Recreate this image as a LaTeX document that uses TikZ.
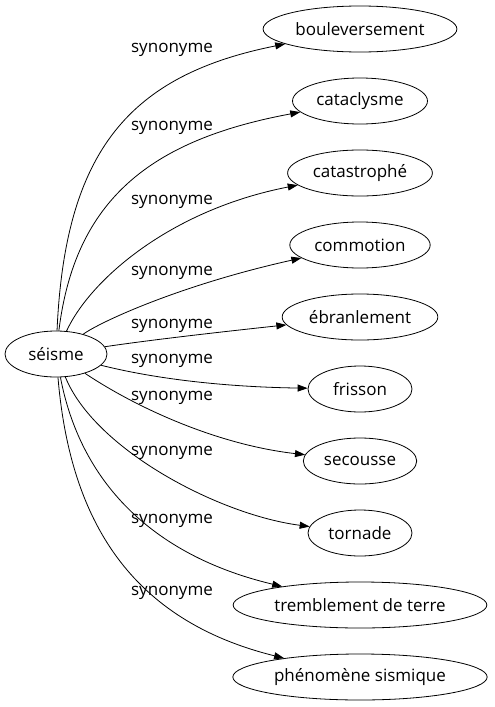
\documentclass[tikz,border=0pt]{standalone}
\usepackage{fontspec}
\setmainfont{Open Sans}
\usetikzlibrary{positioning,shapes.geometric,arrows.meta}

\begin{document}
\begin{tikzpicture}[x=1pt,y=-1pt,line width=0.8pt,
    font=\fontsize{17}{20}\selectfont,
    word/.style={shape=ellipse,draw=black,inner xsep=4pt,inner ysep=0pt,minimum width=104pt,minimum height=46pt},
    lbl/.style={inner sep=0pt,text=black},
    syn/.style={-{Triangle[length=10pt,width=7pt]}}]
                \useasboundingbox (0,0) rectangle (495,707);
                \node[word,minimum width=102pt] (s) at (56,354) {séisme};
                \node[word] (b1) at (360,29) {bouleversement};
                \node[word] (b2) at (360,101) {cataclysme};
                \node[word] (b3) at (360,173) {catastrophé};
                \node[word] (b4) at (360,245) {commotion};
                \node[word] (b5) at (360,317) {ébranlement};
                \node[word] (b6) at (360,389) {frisson};
                \node[word] (b7) at (360,461) {secousse};
                \node[word] (b8) at (360,533) {tornade};
                \node[word] (b9) at (360,605) {tremblement de terre};
                \node[word] (b10) at (360,677) {phénomène sismique};
                \node[lbl] (l1) at (172,50) {synonyme};
                \node[lbl] (l2) at (172,128) {synonyme};
                \node[lbl] (l3) at (172,202) {synonyme};
                \node[lbl] (l4) at (172,273) {synonyme};
                \node[lbl] (l5) at (172,326) {synonyme};
                \node[lbl] (l6) at (172,361) {synonyme};
                \node[lbl] (l7) at (172,398) {synonyme};
                \node[lbl] (l8) at (172,453) {synonyme};
                \node[lbl] (l9) at (172,521) {synonyme};
                \node[lbl] (l10) at (172,593) {synonyme};
                \draw[syn] (s) .. controls (65,150) and (130,75) .. (b1);
                \draw[syn] (s) .. controls (75,200) and (150,140) .. (b2);
                \draw[syn] (s) .. controls (90,280) and (170,210) .. (b3);
                \draw[syn] (s) .. controls (100,322) and (180,285) .. (b4);
                \draw[syn] (s) .. controls (150,340) and (220,332) .. (b5);
                \draw[syn] (s) .. controls (160,380) and (230,387) .. (b6);
                \draw[syn] (s) .. controls (140,410) and (220,445) .. (b7);
                \draw[syn] (s) .. controls (95,450) and (220,515) .. (b8);
                \draw[syn] (s) .. controls (80,480) and (150,555) .. (b9);
                \draw[syn] (s) .. controls (70,520) and (130,620) .. (b10);
\end{tikzpicture}
\end{document}
